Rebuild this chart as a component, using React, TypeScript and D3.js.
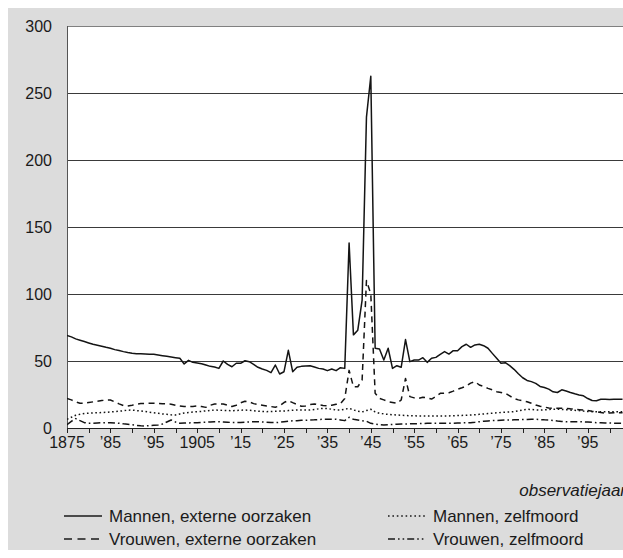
import React from 'react';
import * as d3 from 'd3';

const years = d3.range(1875, 2004);

const mannenExtern = [
  69, 68, 66.5, 65.5, 64.5,
  63.5, 62.5, 61.8, 61, 60.2, 59.5, 58.5, 57.8, 57, 56.3,
  55.7, 55.5, 55.4, 55.3, 55.1, 55, 54.5, 54, 53.5, 53,
  52.5, 52, 47.8, 50.5, 49, 48.5, 48, 47, 46, 45.5,
  44.5, 50, 47.5, 45.7, 48.3, 48.3, 50.2, 49.5, 47.5, 45.3,
  44, 43, 41.3, 47, 40.3, 42, 58, 42, 45.3, 46,
  46.3, 46.5, 45.5, 44.5, 44, 42.8, 44, 42.8, 45, 44.5,
  138, 69.5, 73, 95.5, 232, 262.5, 59.5, 59, 50.7, 59.5,
  44.5, 46.5, 45.3, 66, 49.5, 50.7, 50.7, 52.5, 49, 52,
  52.7, 55, 57, 55.2, 57.7, 57.7, 60.7, 62.5, 60.2, 62,
  62.5, 61.4, 59.5, 55.7, 52, 48.3, 48.7, 46.5, 43.8, 40.5,
  37.5, 35.5, 34.6, 33.3, 31, 30.2, 29, 27, 26.5, 28.5,
  27.6, 26.5, 25.5, 24.7, 24, 22, 20.5, 20.4, 21.4, 21.4,
  21.2, 21.4, 21.4, 21.4,
];

const vrouwenExtern = [
  22, 21, 19.5, 18.5, 18.4,
  19, 19.5, 20, 20.5, 20.8, 20.9, 19.5, 18, 16.8, 16.5,
  17, 17.7, 18.2, 18.4, 18.4, 18.4, 18.3, 18.1, 18, 17.8,
  17, 16.4, 16.1, 15.9, 16.1, 16.4, 16, 15.4, 17, 17.9,
  17.9, 17.9, 17, 16, 17, 18.8, 20, 19.5, 18.2, 17.5,
  17, 16.4, 16, 15.5, 16.5, 19, 20.4, 18.9, 17.5, 16.2,
  16.5, 17.5, 17.9, 17.3, 16.8, 16.5, 17, 17.7, 18.2, 22,
  43, 30.8, 30.8, 35.8, 110, 100, 26, 22.1, 21, 19.6,
  19, 18.4, 20.9, 37, 23.4, 22.5, 22.1, 22.9, 22.5, 21.6,
  23.5, 25.9, 26, 26.3, 27.5, 28.9, 30, 31.3, 33.5, 34.6,
  32.1, 31, 29.6, 28.5, 27.1, 26.5, 25.9, 24, 22, 21,
  20.3, 19.6, 18.5, 17.2, 16.3, 15.6, 15, 14.7, 14.7, 14.7,
  14.7, 14.3, 14, 13.7, 13.4, 13, 12.5, 12.2, 11.5, 11,
  11.2, 11.4, 11.4, 11.4,
];

const mannenZelfmoord = [
  6.5, 8, 9.5, 10.2, 10.8,
  11, 11.2, 11.4, 11.5, 11.7, 12, 12.2, 12.5, 12.9, 13.3,
  13.4, 13, 12.7, 12.3, 11.8, 11.4, 11, 10.5, 10.2, 9.8,
  9.7, 10.5, 11.2, 11.6, 11.9, 12.2, 12.4, 12.8, 13.1, 13.4,
  13.3, 13.1, 13, 12.9, 13.1, 13.3, 13.4, 13.2, 12.9, 12.6,
  12.3, 12.2, 12.3, 12.5, 12.6, 12.7, 13, 13.2, 13.4, 13.4,
  13.4, 13.4, 13.8, 14.3, 14.6, 14.5, 14, 13.4, 13.4, 14,
  14.7, 13.5, 12.5, 12, 13, 14, 12, 11, 10.5, 10.2,
  9.9, 9.7, 9.5, 9.3, 9.2, 9.1, 9, 9, 9, 9,
  9, 9, 9, 9, 9.2, 9.3, 9.4, 9.5, 9.7, 9.9,
  10.2, 10.5, 10.8, 11, 11.3, 11.6, 11.8, 12, 12.2, 12.8,
  13.5, 14, 13.8, 13.5, 13.4, 13.6, 13.8, 14, 14, 13.8,
  13.6, 13.4, 13.2, 13, 12.6, 12.3, 12.2, 12.2, 12.2, 12.2,
  12.2, 12.2, 12.2, 12.2,
];

const vrouwenZelfmoord = [
  2.5, 5, 7, 5.5, 4,
  3.5, 3.6, 3.8, 3.9, 4, 4, 3.8, 3.5, 3.1, 2.8,
  2.4, 2, 1.6, 1.5, 1.8, 2, 2.2, 3, 4.5, 6,
  4.5, 3.5, 3.7, 3.8, 3.9, 4, 4.2, 4.3, 4.5, 4.6,
  4.7, 4.5, 4.3, 4.1, 4, 4.1, 4.3, 4.5, 4.7, 4.7,
  4.5, 4.3, 4.1, 4, 4.3, 4.7, 5.1, 5.4, 5.5, 5.7,
  5.8, 6, 6.1, 6.3, 6.5, 6.5, 6.5, 6.5, 6, 5.5,
  8, 6.5, 6, 5.5, 5, 3.5, 3, 2.5, 2.2, 2.4,
  2.6, 2.8, 3, 3, 3.1, 3.2, 3.3, 3.4, 3.5, 3.5,
  3.5, 3.5, 3.5, 3.5, 3.6, 3.7, 3.8, 3.9, 4, 4.3,
  4.7, 5, 5.3, 5.5, 5.6, 5.8, 5.9, 6, 6.1, 6.2,
  6.3, 6.4, 6.5, 6.5, 6.3, 6.1, 6, 5.6, 5.2, 4.9,
  4.7, 4.7, 4.7, 4.7, 4.6, 4.4, 4.2, 4, 3.9, 3.8,
  3.7, 3.6, 3.5, 3.5,
];

const xLabelYears = [1875, 1885, 1895, 1905, 1915, 1925, 1935, 1945, 1955, 1965, 1975, 1985, 1995];
const xLabels = ['1875', '’85', '’95', '1905', '’15', '’25', '’35', '’45', '’55', '’65', '’75', '’85', '’95'];
const xTickYears = d3.range(1875, 2001, 5);
const yTicks = [0, 50, 100, 150, 200, 250, 300];
const xTitle = 'observatiejaar';

const seriesNames = [
  'Mannen, externe oorzaken',
  'Vrouwen, externe oorzaken',
  'Mannen, zelfmoord',
  'Vrouwen, zelfmoord',
];

const FONT = '"Liberation Sans", Arial, Helvetica, sans-serif';
const W = 615;
const H = 542;
const PL = 59;
const PT = 18;
const PB = 420;
const PR = 615;
const FS = 16;
const LFS = 17;

const dashes = ['', '6,4.5', '1.6,2.6', '7,3,1.6,3'];
const legendDashes = ['', '8,5.5', '1.6,2.8', '7,3,1.6,3,1.6,3'];

export default function App() {
  const x = d3.scaleLinear().domain([1875, 2003]).range([PL, PL + 128 * 4.34]);
  const y = d3.scaleLinear().domain([0, 300]).range([PB, PT]);
  const line = d3
    .line<number>()
    .x((_, i) => x(years[i]))
    .y((d) => y(d));
  const all = [mannenExtern, vrouwenExtern, mannenZelfmoord, vrouwenZelfmoord];

  const legendItems = [
    { col: 0, row: 0, s: 0 },
    { col: 0, row: 1, s: 1 },
    { col: 1, row: 0, s: 2 },
    { col: 1, row: 1, s: 3 },
  ];
  const colX = [56, 380];
  const rowY = [514, 537];

  return (
    <svg
      width={W}
      height={H}
      style={{ position: 'fixed', left: 8, top: 8, display: 'block' }}
      fontFamily={FONT}
    >
      <defs>
        <clipPath id="plotclip">
          <rect x={PL} y={PT - 2} width={PR - PL} height={PB - PT + 2} />
        </clipPath>
      </defs>
      <rect x={0} y={0} width={W} height={H} fill="#dcdcdc" />
      <rect x={PL} y={PT} width={PR - PL + 5} height={PB - PT} fill="#ffffff" />
      {yTicks
        .filter((t) => t > 0 && t < 300)
        .map((t) => (
          <line
            key={t}
            x1={PL}
            x2={PR}
            y1={Math.round(y(t)) + 0.5}
            y2={Math.round(y(t)) + 0.5}
            stroke="#3a3a3a"
            strokeWidth={1}
          />
        ))}
      <line x1={PL} x2={PR} y1={PT + 0.5} y2={PT + 0.5} stroke="#808080" strokeWidth={1} />
      <line x1={PL + 0.5} x2={PL + 0.5} y1={PT} y2={PB} stroke="#555" strokeWidth={1} />
      <g clipPath="url(#plotclip)">
        {all.map((d, i) => (
          <path
            key={i}
            d={line(d) || ''}
            fill="none"
            stroke="#141414"
            strokeWidth={1.5}
            strokeDasharray={dashes[i] || undefined}
            strokeLinejoin="round"
          />
        ))}
      </g>
      <line x1={PL} x2={PR} y1={PB + 0.5} y2={PB + 0.5} stroke="#222" strokeWidth={1.2} />
      {xTickYears.map((t) => (
        <line
          key={t}
          x1={Math.round(x(t)) + 0.5}
          x2={Math.round(x(t)) + 0.5}
          y1={PB}
          y2={PB + 5}
          stroke="#222"
          strokeWidth={1}
        />
      ))}
      {yTicks.map((t) => (
        <text
          key={t}
          x={44}
          y={y(t)}
          dy="0.35em"
          textAnchor="end"
          fontSize={FS}
          fill="#1a1a1a"
        >
          {t}
        </text>
      ))}
      {xLabelYears.map((t, i) => (
        <text key={t} x={x(t)} y={440} textAnchor="middle" fontSize={FS} fill="#1a1a1a">
          {xLabels[i]}
        </text>
      ))}
      <text x={618} y={488} textAnchor="end" fontSize={LFS} fontStyle="italic" fill="#1a1a1a">
        {xTitle}
      </text>
      {legendItems.map((it) => (
        <g key={it.s}>
          <line
            x1={colX[it.col]}
            x2={colX[it.col] + 38}
            y1={rowY[it.row] - 6}
            y2={rowY[it.row] - 6}
            stroke="#1a1a1a"
            strokeWidth={1.4}
            strokeDasharray={legendDashes[it.s] || undefined}
          />
          <text x={colX[it.col] + 45} y={rowY[it.row]} fontSize={LFS} fill="#1a1a1a">
            {seriesNames[it.s]}
          </text>
        </g>
      ))}
    </svg>
  );
}
